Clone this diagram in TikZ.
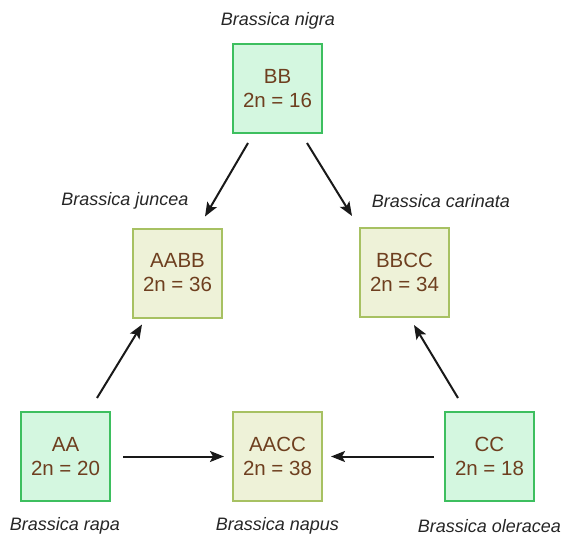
\documentclass[tikz,border=0pt]{standalone}
\usepackage{fontspec}
\setmainfont{Liberation Sans}
\usetikzlibrary{arrows.meta,calc}
\definecolor{txtbrown}{HTML}{6E3F1F}
\definecolor{greenfill}{HTML}{D4F7E0}
\definecolor{greendraw}{HTML}{3DBF5F}
\definecolor{olivefill}{HTML}{EEF2D8}
\definecolor{olivedraw}{HTML}{A7C162}
\tikzset{
  genome/.style={rectangle, minimum width=89pt, minimum height=89pt, inner sep=0pt,
    align=center, line width=2pt, text=txtbrown, font=\fontsize{20.5}{24}\selectfont},
  diploid/.style={genome, fill=greenfill, draw=greendraw},
  hybrid/.style={genome, fill=olivefill, draw=olivedraw},
  species/.style={anchor=base, inner sep=0pt, font=\fontsize{18}{22}\selectfont\itshape, text=black!85},
  cross/.style={-{Stealth[length=14pt,width=11pt,inset=3pt]}, line width=2pt, black!90}
}
\begin{document}
\begin{tikzpicture}[x=1pt,y=-1pt]
\useasboundingbox (0,0) rectangle (563,538);
\node[diploid] (BB) at (277.5,88.5) {BB\\2n = 16};
\node[hybrid] (AABB) at (177.5,273) {AABB\\2n = 36};
\node[hybrid] (BBCC) at (404.5,272.5) {BBCC\\2n = 34};
\node[diploid] (AA) at (65.5,456.5) {AA\\2n = 20};
\node[hybrid] (AACC) at (277.5,456.5) {AACC\\2n = 38};
\node[diploid] (CC) at (489.5,456.5) {CC\\2n = 18};

\node[species] (nigra) at (278,25) {Brassica nigra};
\node[species] (juncea) at (125,205) {Brassica juncea};
\node[species] (carinata) at (441,207) {Brassica carinata};
\node[species] (rapa) at (65,530) {Brassica rapa};
\node[species] (napus) at (277.5,530) {Brassica napus};
\node[species] (oleracea) at (489.5,532) {Brassica oleracea};

\draw[cross] ($(BB.south)+(-29.5,9)$) -- ($(AABB.north)+(27.5,-11)$);
\draw[cross] ($(BB.south)+(29.5,9)$) -- ($(BBCC.north)+(-52.5,-11)$);
\draw[cross] ($(AA.north)+(31.5,-13)$) -- ($(AABB.south)+(-35.5,6)$);
\draw[cross] ($(CC.north)+(-31.5,-13)$) -- ($(BBCC.south)+(9.5,7)$);
\draw[cross] ($(AA.east)+(12,0)$) -- ($(AACC.west)+(-8,0)$);
\draw[cross] ($(CC.west)+(-10,0)$) -- ($(AACC.east)+(8,0)$);
\end{tikzpicture}
\end{document}
